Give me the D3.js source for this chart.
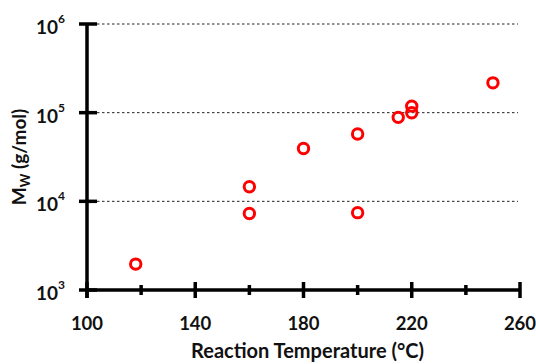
<!DOCTYPE html>
<html>
<head>
<meta charset="utf-8">
<script src="https://cdn.jsdelivr.net/npm/d3@7"></script>
<style>
  body { margin: 0; background: #fff; }
  svg text { font-family: Lato, "Open Sans", sans-serif; font-weight: 700; fill: #111; }
</style>
</head>
<body>
<div id="chart"></div>
<script>
// ---------- Данные ----------
const temperature = [118, 160, 160, 180, 200, 200, 215, 220, 220, 250];
const molWeight = [1960, 14600, 7300, 39500, 57400, 7450, 88500, 118500, 99800, 217000];

const xMajorTicks = [100, 140, 180, 220, 260];
const xMinorTicks = [120, 160, 200, 240];
const yTicks = [1e3, 1e4, 1e5, 1e6];
const yExponents = ['3', '4', '5', '6'];

const W = 536, H = 364;
const margin = { left: 87, right: 16, top: 24, bottom: 74 };

const svg = d3.select('#chart').append('svg')
    .attr('width', W).attr('height', H);

const x = d3.scaleLinear().domain([100, 260]).range([margin.left, W - margin.right]);
const y = d3.scaleLog().domain([1e3, 1e6]).range([H - margin.bottom, margin.top]);

const x0 = x(100), y0 = y(1e3);

// ---------- Сетка ----------
svg.append('g')
    .selectAll('line')
    .data(yTicks.slice(1))
    .join('line')
    .attr('x1', x0 + 10).attr('x2', x(260) - 2)
    .attr('y1', d => y(d)).attr('y2', d => y(d))
    .attr('stroke', '#222')
    .attr('stroke-width', 1)
    .attr('stroke-dasharray', '2.5 2.5');

// ---------- Оси ----------
const axisColor = '#000';
svg.append('line')
    .attr('x1', x0).attr('x2', x(260))
    .attr('y1', y0).attr('y2', y0)
    .attr('stroke', axisColor).attr('stroke-width', 3.5);
svg.append('line')
    .attr('x1', x0).attr('x2', x0)
    .attr('y1', y(1e6)).attr('y2', y0 + 8)
    .attr('stroke', axisColor).attr('stroke-width', 3.5);

svg.append('g').selectAll('line')
    .data(xMajorTicks)
    .join('line')
    .attr('x1', d => x(d)).attr('x2', d => x(d))
    .attr('y1', y0 - 8).attr('y2', y0 + 8)
    .attr('stroke', axisColor).attr('stroke-width', 3.5);

svg.append('g').selectAll('line')
    .data(xMinorTicks)
    .join('line')
    .attr('x1', d => x(d)).attr('x2', d => x(d))
    .attr('y1', y0 - 5).attr('y2', y0 + 5)
    .attr('stroke', axisColor).attr('stroke-width', 3.5);

svg.append('g').selectAll('line')
    .data(yTicks)
    .join('line')
    .attr('x1', x0 - 8).attr('x2', x0 + 10)
    .attr('y1', d => y(d)).attr('y2', d => y(d))
    .attr('stroke', axisColor).attr('stroke-width', 3.5);

// ---------- Подписи ----------
svg.append('g').selectAll('text')
    .data(xMajorTicks)
    .join('text')
    .attr('x', d => x(d))
    .attr('y', y0 + 40)
    .attr('text-anchor', 'middle')
    .attr('font-size', 18.5)
    .text(d => d);

const yLab = svg.append('g').selectAll('text')
    .data(yTicks)
    .join('text')
    .attr('x', x0 - 22)
    .attr('y', d => y(d) + 10)
    .attr('text-anchor', 'end')
    .attr('font-size', 19);
yLab.append('tspan').text('10');
yLab.append('tspan')
    .attr('dy', -11)
    .attr('font-size', 12)
    .text((d, i) => yExponents[i]);

svg.append('text')
    .attr('x', (x(100) + x(260)) / 2 + 4)
    .attr('y', H - 6)
    .attr('text-anchor', 'middle')
    .attr('font-size', 20)
    .text('Reaction Temperature (°C)');

const yTitle = svg.append('text')
    .attr('transform', `translate(26,${(y(1e3) + y(1e6)) / 2}) rotate(-90)`)
    .attr('text-anchor', 'middle')
    .attr('font-size', 19);
yTitle.append('tspan').text('M');
yTitle.append('tspan').attr('font-size', 13).attr('dy', 4).text('W');
yTitle.append('tspan').attr('dy', -4).text(' (g/mol)');

// ---------- Точки ----------
svg.append('g').selectAll('circle')
    .data(temperature.map((t, i) => [t, molWeight[i]]))
    .join('circle')
    .attr('cx', d => x(d[0]))
    .attr('cy', d => y(d[1]))
    .attr('r', 5.2)
    .attr('fill', 'none')
    .attr('stroke', '#f00')
    .attr('stroke-width', 3);
</script>
</body>
</html>
